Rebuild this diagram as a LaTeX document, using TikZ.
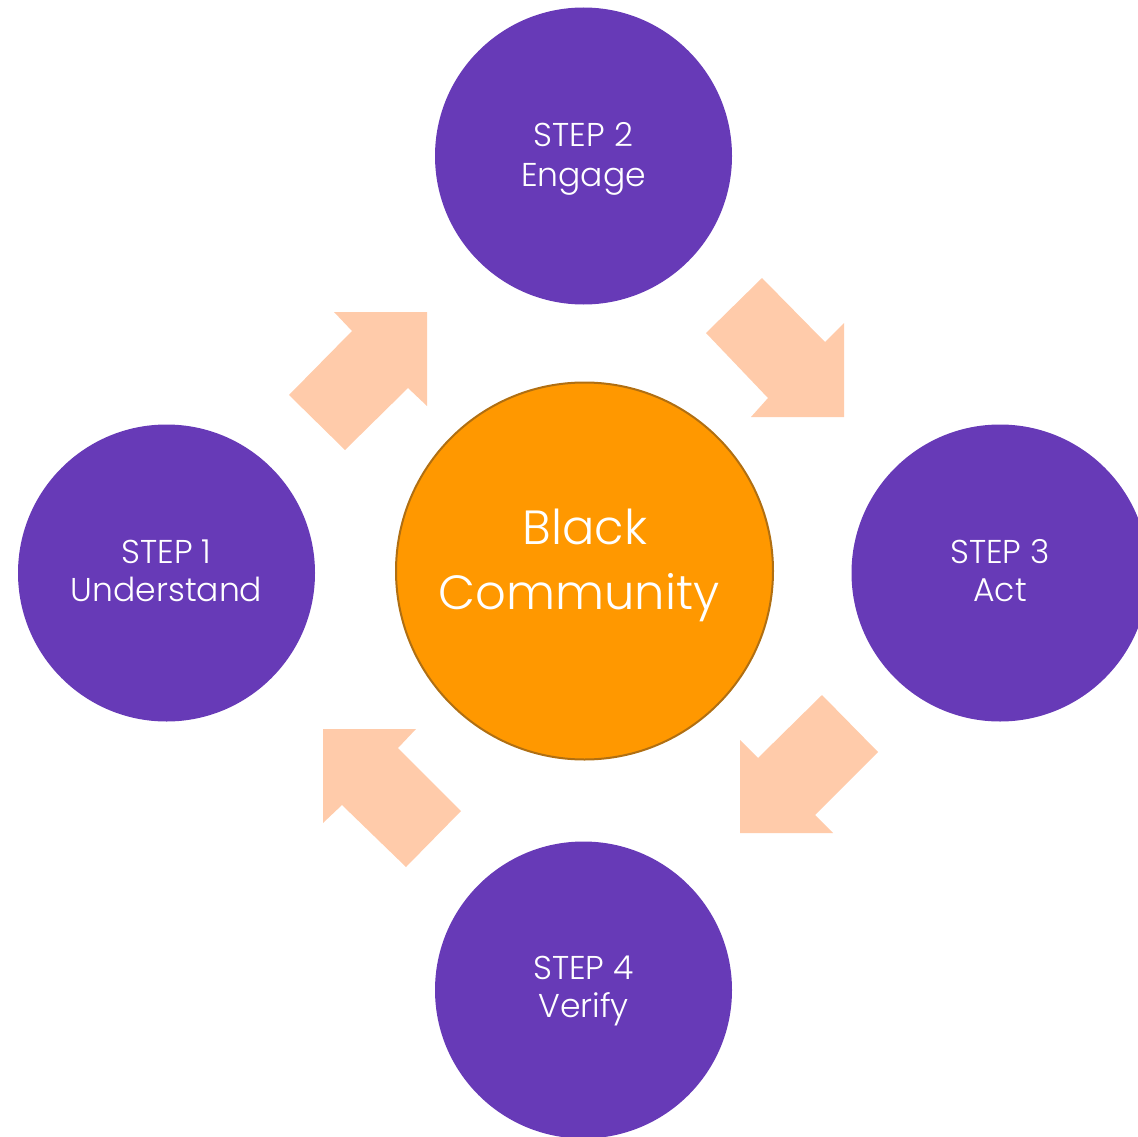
\documentclass[tikz,border=0pt]{standalone}
\usepackage{fontspec}
\setmainfont{Poppins}[UprightFont={* Light}]
\definecolor{stepPurple}{HTML}{673AB7}
\definecolor{hubOrange}{HTML}{FF9800}
\definecolor{hubBorder}{HTML}{B06F12}
\definecolor{arrowPeach}{HTML}{FFCBAA}
\begin{document}
\begin{tikzpicture}[x=1pt,y=-1pt,
  stepcircle/.style={circle,fill=stepPurple,draw=none,minimum size=297pt,inner sep=0pt},
  hubcircle/.style={circle,fill=hubOrange,draw=hubBorder,line width=2pt,minimum size=377pt,inner sep=0pt},
  steptext/.style={anchor=base,text=white,font=\fontsize{33}{38}\selectfont,inner sep=0pt},
  hubtext/.style={anchor=base,text=white,font=\fontsize{48}{60}\selectfont,inner sep=0pt},
  blockarrow/.style={fill=arrowPeach,draw=none}]
\useasboundingbox (0,0) rectangle (1138,1137);
% circles
\node[hubcircle] (hub) at (584.5,571) {};
\node[stepcircle] (s1) at (166.5,573) {};
\node[stepcircle] (s2) at (583.5,156) {};
\node[stepcircle] (s3) at (1000,573) {};
\node[stepcircle] (s4) at (583.5,990) {};
% texts
\node[hubtext] (hubA) at (585,544) {Black};
\node[hubtext] (hubB) at (579,609) {Community};
\node[steptext] (s1a) at (166.5,563) {STEP 1};
\node[steptext] (s1b) at (166.5,601) {Understand};
\node[steptext] (s2a) at (583.5,147) {STEP 2};
\node[steptext] (s2b) at (583.5,186) {Engage};
\node[steptext] (s3a) at (1000,563) {STEP 3};
\node[steptext] (s3b) at (1000,601) {Act};
\node[steptext] (s4a) at (583.5,979) {STEP 4};
\node[steptext] (s4b) at (583.5,1017) {Verify};
% block arrows
\fill[blockarrow] (427,312) -- (334,312) -- (352,331) -- (289,395) -- (345,450) -- (408,388) -- (427,406) -- cycle;
\fill[blockarrow] (844,417) -- (844,323) -- (825,342) -- (762,278) -- (706,333) -- (768,398) -- (751,417) -- cycle;
\fill[blockarrow] (740,833) -- (833,833) -- (815,815) -- (878,752) -- (822,695) -- (758,758) -- (740,740) -- cycle;
\fill[blockarrow] (323,729) -- (323,823) -- (342,805) -- (406,867) -- (461,811) -- (398,748) -- (416,729) -- cycle;
\end{tikzpicture}
\end{document}
